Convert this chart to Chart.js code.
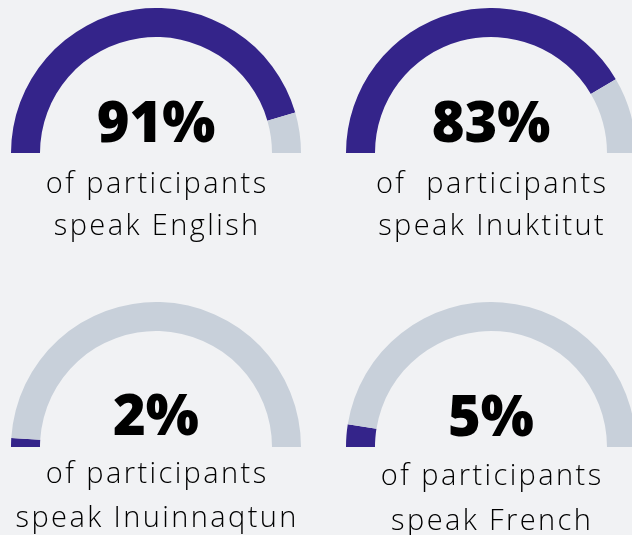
<!DOCTYPE html>
<html><head><meta charset="utf-8">
<script src="https://cdn.jsdelivr.net/npm/chart.js@4.4.1/dist/chart.umd.min.js"></script>
<style>
html,body{margin:0;padding:0;background:#f1f2f4;width:632px;height:535px;overflow:hidden;position:relative}
canvas{position:absolute}
.pct{position:absolute;width:320px;text-align:center;font-family:"Open Sans";font-weight:800;font-size:56px;line-height:56px;color:#000;white-space:pre}
.sub{position:absolute;width:340px;text-align:center;font-family:"Open Sans";font-weight:300;font-size:29px;line-height:29px;color:#000;white-space:pre;font-variant-ligatures:none;letter-spacing:2.4px;text-indent:2.4px}
</style></head><body>
<script>
// Data
const languages = ["English", "Inuktitut", "Inuinnaqtun", "French"];
const percentSpeaking = [91, 83, 2, 5];
const captionLine1 = ["of participants", "of  participants", "of participants", "of participants"];
const captionLine2 = ["speak English", "speak Inuktitut", "speak Inuinnaqtun", "speak French"];

// Layout
const gaugeCenters = [[156, 153], [491, 153], [156, 447], [491, 447]];
const R = 145;
const pctBaselines = [142, 142, 435, 436];
const line1Baselines = [193, 193, 483, 485];
const line2Baselines = [235, 235, 527, 530];
const PURPLE = "#34248a", GREY = "#c8d0da";

function addText(cls, text, cx, baseline, size, ascentRatio) {
  const d = document.createElement("div");
  d.className = cls;
  d.textContent = text;
  const w = cls === "pct" ? 320 : 340;
  d.style.left = (cx - w / 2) + "px";
  d.style.top = (baseline - size * ascentRatio) + "px";
  document.body.appendChild(d);
}

languages.forEach((lang, i) => {
  const [cx, cy] = gaugeCenters[i];
  const c = document.createElement("canvas");
  c.width = 2 * R; c.height = R;
  c.style.left = (cx - R) + "px";
  c.style.top = (cy - R) + "px";
  document.body.appendChild(c);
  new Chart(c, {
    type: "doughnut",
    data: {
      labels: ["Speak " + lang, "Do not speak " + lang],
      datasets: [{
        data: [percentSpeaking[i], 100 - percentSpeaking[i]],
        backgroundColor: [PURPLE, GREY],
        borderWidth: 0
      }]
    },
    options: {
      responsive: false,
      animation: false,
      rotation: -90,
      circumference: 180,
      cutout: "80%",
      layout: { padding: 0 },
      plugins: { legend: { display: false }, tooltip: { enabled: false } },
      events: []
    }
  });
  addText("pct", percentSpeaking[i] + "%", cx, pctBaselines[i], 56, 0.888);
  addText("sub", captionLine1[i], cx, line1Baselines[i], 29, 0.888);
  addText("sub", captionLine2[i], cx, line2Baselines[i], 29, 0.888);
});
</script>
</body></html>
